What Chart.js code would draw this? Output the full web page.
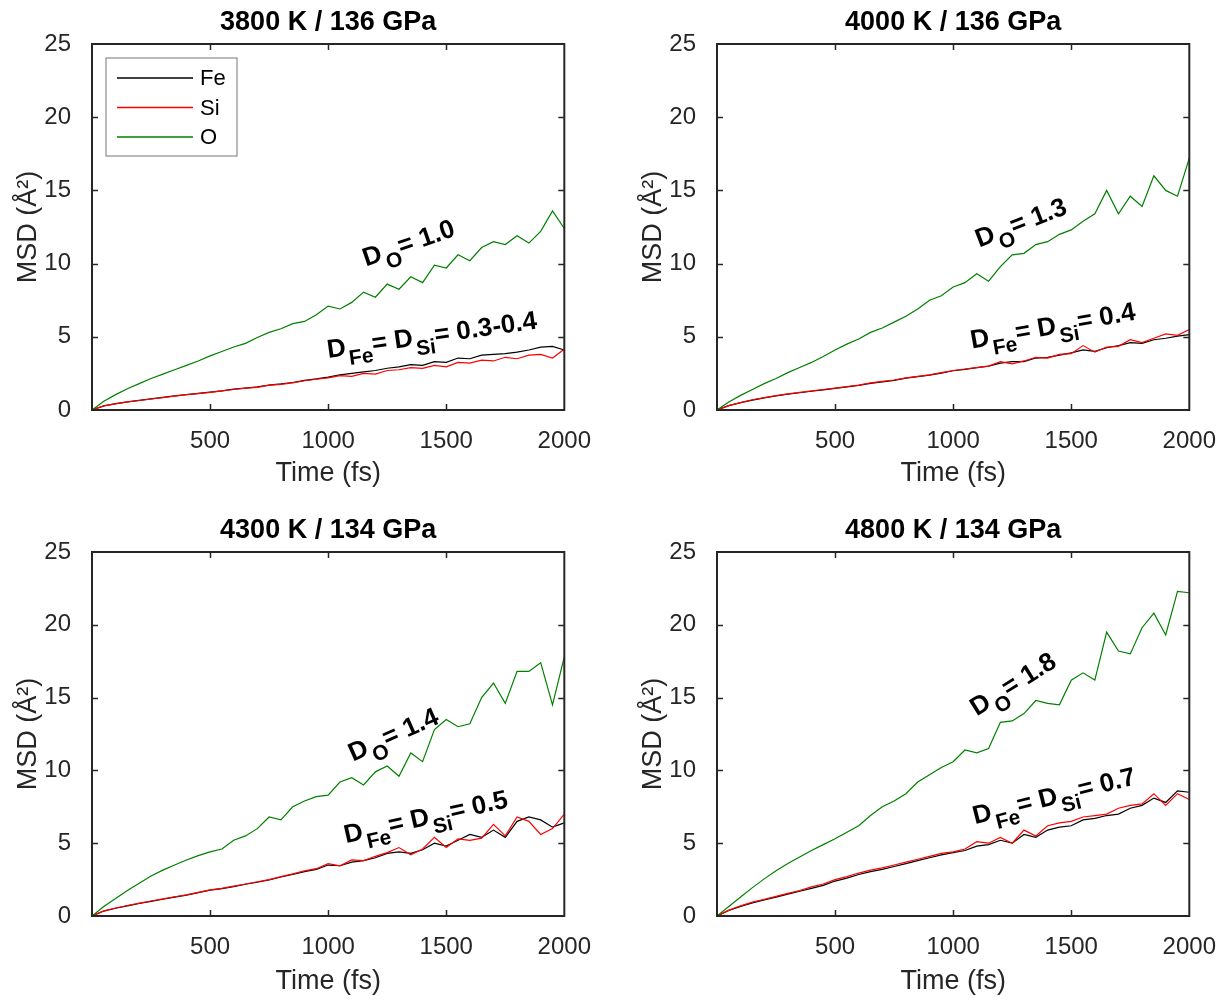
<!DOCTYPE html>
<html>
<head>
<meta charset="utf-8">
<title>MSD vs time</title>
<script src="https://cdn.jsdelivr.net/npm/chart.js@4/dist/chart.umd.min.js"></script>
<style>
    body { margin: 0; background: #fff; width: 1228px; height: 1000px; position: relative; overflow: hidden; }
    canvas { position: absolute; }
</style>
</head>
<body>
<canvas id="chart1" width="600" height="492" style="left:0px;top:0px"></canvas>
<canvas id="chart2" width="600" height="492" style="left:625px;top:0px"></canvas>
<canvas id="chart3" width="600" height="492" style="left:0px;top:508px"></canvas>
<canvas id="chart4" width="600" height="492" style="left:625px;top:508px"></canvas>
<script>
// time axis (fs), one sample every 50 fs
var time = [0, 50, 100, 150, 200, 250, 300, 350, 400, 450, 500, 550, 600, 650, 700, 750, 800, 850, 900, 950,
    1000, 1050, 1100, 1150, 1200, 1250, 1300, 1350, 1400, 1450, 1500, 1550, 1600, 1650, 1700, 1750, 1800, 1850, 1900, 1950, 2000];

var xTicks = [0, 500, 1000, 1500, 2000];
var yTicks = [0, 5, 10, 15, 20, 25];

// 3800 K / 136 GPa
var fe3800 = [0, 0.28, 0.43, 0.56, 0.66, 0.76, 0.86, 0.96, 1.05, 1.13, 1.22, 1.3, 1.42, 1.5, 1.58, 1.7, 1.78, 1.88, 2.02, 2.12,
    2.25, 2.4, 2.5, 2.6, 2.7, 2.85, 2.95, 3.1, 3.05, 3.3, 3.25, 3.55, 3.5, 3.75, 3.8, 3.85, 3.95, 4.1, 4.3, 4.35, 4.1];
var si3800 = [0, 0.28, 0.42, 0.55, 0.65, 0.75, 0.85, 0.95, 1.05, 1.12, 1.2, 1.3, 1.4, 1.5, 1.55, 1.7, 1.75, 1.85, 2.0, 2.1,
    2.2, 2.35, 2.3, 2.5, 2.45, 2.7, 2.75, 2.9, 2.85, 3.05, 2.95, 3.25, 3.2, 3.4, 3.35, 3.6, 3.5, 3.75, 3.8, 3.55, 4.15];
var o3800 = [0, 0.6, 1.05, 1.45, 1.8, 2.15, 2.45, 2.75, 3.05, 3.35, 3.7, 4.0, 4.3, 4.55, 4.95, 5.3, 5.55, 5.9, 6.05, 6.5,
    7.1, 6.9, 7.35, 8.05, 7.7, 8.6, 8.25, 9.1, 8.7, 9.9, 9.7, 10.6, 10.2, 11.1, 11.5, 11.3, 11.9, 11.4, 12.2, 13.6, 12.4];

// 4000 K / 136 GPa
var fe4000 = [0, 0.3, 0.5, 0.68, 0.83, 0.96, 1.08, 1.18, 1.28, 1.38, 1.48, 1.58, 1.68, 1.82, 1.92, 2.02, 2.18, 2.28, 2.38, 2.52,
    2.68, 2.78, 2.9, 3.0, 3.2, 3.3, 3.3, 3.55, 3.6, 3.75, 3.9, 4.1, 4.0, 4.25, 4.4, 4.6, 4.55, 4.8, 4.9, 5.05, 5.15];
var si4000 = [0, 0.3, 0.5, 0.7, 0.85, 0.98, 1.1, 1.2, 1.3, 1.4, 1.5, 1.6, 1.7, 1.85, 1.95, 2.05, 2.2, 2.3, 2.4, 2.55,
    2.7, 2.8, 2.9, 3.0, 3.3, 3.15, 3.35, 3.6, 3.55, 3.8, 3.85, 4.4, 3.95, 4.3, 4.35, 4.8, 4.6, 4.9, 5.2, 5.1, 5.5];
var o4000 = [0, 0.55, 1.0, 1.4, 1.8, 2.15, 2.55, 2.9, 3.25, 3.65, 4.1, 4.5, 4.85, 5.3, 5.6, 6.0, 6.4, 6.9, 7.5, 7.8,
    8.4, 8.7, 9.3, 8.8, 9.8, 10.6, 10.7, 11.3, 11.5, 12.0, 12.3, 12.9, 13.4, 15.0, 13.4, 14.6, 13.9, 16.0, 15.0, 14.6, 17.2];

// 4300 K / 134 GPa
var fe4300 = [0, 0.34, 0.53, 0.7, 0.86, 1.0, 1.15, 1.3, 1.43, 1.6, 1.78, 1.88, 2.02, 2.18, 2.32, 2.48, 2.68, 2.85, 3.05, 3.2,
    3.5, 3.45, 3.7, 3.8, 4.0, 4.3, 4.4, 4.3, 4.55, 5.0, 4.8, 5.2, 5.6, 5.4, 5.9, 5.4, 6.5, 6.8, 6.6, 6.1, 6.4];
var si4300 = [0, 0.35, 0.55, 0.72, 0.88, 1.03, 1.17, 1.32, 1.45, 1.62, 1.8, 1.9, 2.05, 2.2, 2.35, 2.5, 2.7, 2.9, 3.1, 3.25,
    3.6, 3.45, 3.85, 3.8, 4.1, 4.35, 4.7, 4.2, 4.6, 5.4, 4.7, 5.3, 5.2, 5.35, 6.3, 5.5, 6.8, 6.5, 5.6, 6.0, 7.0];
var o4300 = [0, 0.65, 1.2, 1.75, 2.25, 2.75, 3.15, 3.5, 3.85, 4.15, 4.4, 4.6, 5.2, 5.5, 6.0, 6.8, 6.6, 7.5, 7.9, 8.2,
    8.3, 9.2, 9.5, 9.0, 9.9, 10.3, 9.6, 11.2, 10.6, 12.8, 13.5, 13.0, 13.2, 15.0, 16.0, 14.6, 16.8, 16.8, 17.4, 14.5, 17.8];

// 4800 K / 134 GPa
var fe4800 = [0, 0.38, 0.66, 0.9, 1.1, 1.3, 1.5, 1.7, 1.9, 2.1, 2.4, 2.6, 2.85, 3.05, 3.2, 3.4, 3.6, 3.8, 4.0, 4.2,
    4.35, 4.5, 4.8, 4.9, 5.2, 5.0, 5.6, 5.4, 5.9, 6.1, 6.2, 6.6, 6.7, 6.9, 7.0, 7.4, 7.6, 8.1, 7.8, 8.6, 8.5];
var si4800 = [0, 0.4, 0.7, 0.95, 1.15, 1.35, 1.55, 1.75, 2.0, 2.2, 2.5, 2.7, 2.95, 3.15, 3.3, 3.5, 3.7, 3.9, 4.1, 4.3,
    4.4, 4.6, 5.1, 5.0, 5.4, 5.0, 5.9, 5.5, 6.2, 6.4, 6.5, 6.8, 6.9, 7.0, 7.4, 7.6, 7.7, 8.4, 7.6, 8.4, 8.0];
var o4800 = [0, 0.65, 1.3, 1.95, 2.55, 3.1, 3.6, 4.05, 4.5, 4.9, 5.3, 5.75, 6.2, 6.9, 7.5, 7.9, 8.4, 9.2, 9.7, 10.2,
    10.6, 11.4, 11.2, 11.5, 13.3, 13.4, 13.9, 14.8, 14.6, 14.5, 16.2, 16.7, 16.2, 19.5, 18.2, 18.0, 19.8, 20.8, 19.3, 22.3, 22.2];

var panelTitles = ['3800 K / 136 GPa', '4000 K / 136 GPa', '4300 K / 134 GPa', '4800 K / 134 GPa'];
var oLabels = ['D_{O}= 1.0', 'D_{O}= 1.3', 'D_{O}= 1.4', 'D_{O}= 1.8'];
var feSiLabels = ['D_{Fe}= D_{Si}= 0.3-0.4', 'D_{Fe}= D_{Si}= 0.4', 'D_{Fe}= D_{Si}= 0.5', 'D_{Fe}= D_{Si}= 0.7'];

var FONT = '"Liberation Sans", Arial, Helvetica, sans-serif';
var AXIS_COLOR = '#262626';

Chart.defaults.font.family = FONT;
Chart.defaults.color = AXIS_COLOR;

// draws "D_{Fe}= 0.4" style text, rotated, with subscripts
function drawRichText(ctx, text, x, y, angle) {
    var parts = text.split(/(_\{[^}]*\})/);
    ctx.save();
    ctx.translate(x, y);
    ctx.rotate(angle * Math.PI / 180);
    ctx.fillStyle = '#000';
    ctx.textBaseline = 'alphabetic';
    ctx.textAlign = 'left';
    var pos = 0;
    parts.forEach(function(part) {
        if (!part) return;
        if (part.charAt(0) === '_') {
            var sub = part.slice(2, -1);
            ctx.font = 'bold 21px ' + FONT;
            ctx.fillText(sub, pos + 2, 10);
            pos += ctx.measureText(sub).width + 2;
        } else {
            ctx.font = 'bold 26px ' + FONT;
            ctx.fillText(part, pos, 0);
            pos += ctx.measureText(part).width;
        }
    });
    ctx.restore();
}

// box, inward ticks, legend and the diffusion notes
var msdFrame = {
    id: 'msdFrame',
    afterDraw: function(chart, args, opts) {
        var ctx = chart.ctx;
        var a = chart.chartArea;
        var xs = chart.scales.x;
        var ys = chart.scales.y;
        var tick = 6;

        ctx.save();
        ctx.strokeStyle = AXIS_COLOR;
        ctx.lineWidth = 1.5;
        ctx.beginPath();
        xs.ticks.forEach(function(t) {
            var px = Math.round(xs.getPixelForValue(t.value)) + 0.5;
            if (t.value <= xs.min || t.value >= xs.max) return;
            ctx.moveTo(px, a.bottom); ctx.lineTo(px, a.bottom - tick);
            ctx.moveTo(px, a.top); ctx.lineTo(px, a.top + tick);
        });
        ys.ticks.forEach(function(t) {
            var py = Math.round(ys.getPixelForValue(t.value)) + 0.5;
            if (t.value <= ys.min || t.value >= ys.max) return;
            ctx.moveTo(a.left, py); ctx.lineTo(a.left + tick, py);
            ctx.moveTo(a.right, py); ctx.lineTo(a.right - tick, py);
        });
        ctx.stroke();
        ctx.lineWidth = 2;
        ctx.strokeRect(a.left, a.top, a.right - a.left, a.bottom - a.top);

        if (opts.legend) {
            var lx = a.left + 14, ly = a.top + 14;
            ctx.fillStyle = '#fff';
            ctx.fillRect(lx, ly, 131, 98);
            ctx.strokeStyle = '#8c8c8c';
            ctx.lineWidth = 1.2;
            ctx.strokeRect(lx, ly, 131, 98);
            var sets = chart.data.datasets.slice().reverse();
            ctx.font = '22px ' + FONT;
            ctx.textBaseline = 'middle';
            sets.forEach(function(ds, i) {
                var rowY = ly + 20 + i * 29.5;
                ctx.strokeStyle = ds.borderColor;
                ctx.lineWidth = 1.5;
                ctx.beginPath();
                ctx.moveTo(lx + 11, rowY);
                ctx.lineTo(lx + 87, rowY);
                ctx.stroke();
                ctx.fillStyle = '#000';
                ctx.fillText(ds.label, lx + 94, rowY + 1);
            });
        }

        (opts.notes || []).forEach(function(n) {
            drawRichText(ctx, n.text, xs.getPixelForValue(n.t), ys.getPixelForValue(n.v), n.angle);
        });
        ctx.restore();
    }
};

function makeDataset(label, values, color) {
    return {
        label: label,
        data: values,
        borderColor: color,
        borderWidth: 1.2,
        pointRadius: 0,
        tension: 0,
        fill: false
    };
}

function displayMsdChart(canvasId, title, fe, si, o, notes, showLegend, xAxisHeight) {
    var ctx = document.getElementById(canvasId).getContext('2d');
    return new Chart(ctx, {
        type: 'line',
        data: {
            labels: time,
            // first dataset is painted last, so O is on top, then Si over Fe
            datasets: [
                makeDataset('O', o, '#008000'),
                makeDataset('Si', si, '#ff0000'),
                makeDataset('Fe', fe, '#000000')
            ]
        },
        options: {
            responsive: false,
            animation: false,
            layout: { padding: { left: 0, right: 34, top: 0, bottom: 0 } },
            plugins: {
                legend: { display: false },
                tooltip: { enabled: false },
                title: {
                    display: true,
                    text: title,
                    fullSize: false,
                    color: '#000',
                    font: { size: 27, weight: 'bold' },
                    padding: { top: 6, bottom: 5.6 }
                },
                msdFrame: { legend: showLegend, notes: notes }
            },
            scales: {
                x: {
                    type: 'linear',
                    min: xTicks[0],
                    max: xTicks[xTicks.length - 1],
                    afterFit: function(scale) { scale.height = xAxisHeight; },
                    afterBuildTicks: function(scale) {
                        scale.ticks = xTicks.map(function(v) { return { value: v }; });
                    },
                    grid: { display: false },
                    border: { display: false },
                    ticks: {
                        padding: 9,
                        maxRotation: 0,
                        color: AXIS_COLOR,
                        font: { size: 24 },
                        callback: function(v) { return v === 0 ? '' : String(v); }
                    },
                    title: {
                        display: true,
                        text: 'Time (fs)',
                        color: AXIS_COLOR,
                        font: { size: 27 },
                        padding: { top: 0, bottom: 2 }
                    }
                },
                y: {
                    type: 'linear',
                    min: yTicks[0],
                    max: yTicks[yTicks.length - 1],
                    afterFit: function(scale) { scale.width = 92; },
                    afterBuildTicks: function(scale) {
                        scale.ticks = yTicks.map(function(v) { return { value: v }; });
                    },
                    grid: { display: false },
                    border: { display: false },
                    ticks: {
                        padding: 13,
                        color: AXIS_COLOR,
                        font: { size: 24 },
                        callback: function(v) { return String(v); }
                    },
                    title: {
                        display: true,
                        text: 'MSD (Å²)',
                        color: AXIS_COLOR,
                        font: { size: 27 },
                        padding: { top: 12, bottom: 0 }
                    }
                }
            }
        },
        plugins: [msdFrame]
    });
}

displayMsdChart('chart1', panelTitles[0], fe3800, si3800, o3800, [
    { text: oLabels[0], t: 1160, v: 9.8, angle: -19 },
    { text: feSiLabels[0], t: 1000, v: 3.55, angle: -8 }
], true, 82);

displayMsdChart('chart2', panelTitles[1], fe4000, si4000, o4000, [
    { text: oLabels[1], t: 1110, v: 11.1, angle: -21 },
    { text: feSiLabels[1], t: 1080, v: 4.2, angle: -10 }
], false, 82);

displayMsdChart('chart3', panelTitles[2], fe4300, si4300, o4300, [
    { text: oLabels[2], t: 1105, v: 10.6, angle: -24 },
    { text: feSiLabels[2], t: 1076, v: 5.0, angle: -12.5 }
], false, 84);

displayMsdChart('chart4', panelTitles[3], fe4800, si4800, o4800, [
    { text: oLabels[3], t: 1100, v: 13.7, angle: -32 },
    { text: feSiLabels[3], t: 1093, v: 6.3, angle: -14 }
], false, 84);
</script>
</body>
</html>
